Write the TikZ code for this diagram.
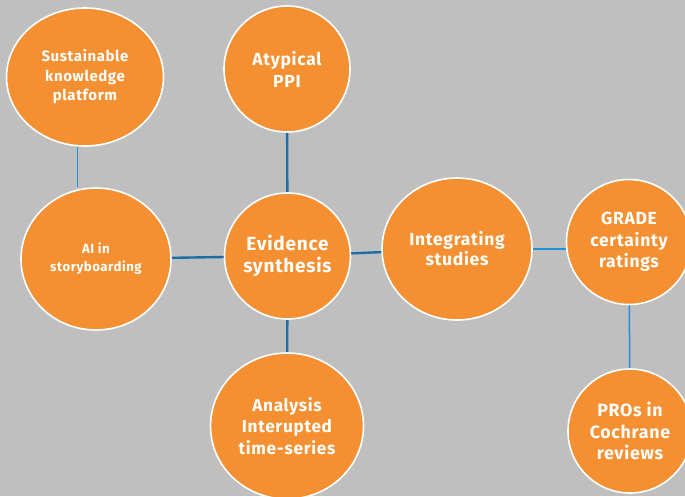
\documentclass[tikz,border=0pt]{standalone}
\usepackage{fontspec}
\setmainfont{Fira Sans}[LetterSpace=4]
\usepackage{tikz}
\usetikzlibrary{shapes.geometric}

\definecolor{bggray}{RGB}{191,191,191}
\definecolor{bubbleorange}{RGB}{244,144,50}
\definecolor{linkdark}{RGB}{28,110,164}
\definecolor{linklight}{RGB}{30,145,218}

\begin{document}
\begin{tikzpicture}[x=1pt, y=-1pt,
        bubble/.style = {ellipse, draw=white, line width=1.6pt, fill=bubbleorange, text=white, inner sep=0pt, align=center, font=\bfseries},
        link/.style = {draw=linkdark, line width=2.4pt},
        thinlink/.style = {draw=linklight, line width=1.5pt},]
        \fill[bggray] (0,0) rectangle (685,496);
        \useasboundingbox (0,0) rectangle (685,496);

        \node[bubble, minimum width=157pt, minimum height=138pt, font=\bfseries\fontsize{15}{19.5}\selectfont] (sust) at (85,77) {Sustainable\\knowledge\\platform};
        \node[bubble, minimum width=126pt, minimum height=126pt, font=\bfseries\fontsize{17.5}{22}\selectfont] (ppi) at (287,69) {Atypical\\PPI};
        \node[bubble, minimum width=150pt, minimum height=142pt, font=\bfseries\fontsize{13.2}{18}\selectfont] (ai) at (96,259) {AI in\\storyboarding};
        \node[bubble, minimum width=126pt, minimum height=126pt, font=\bfseries\fontsize{19}{22}\selectfont] (evid) at (287.5,256) {Evidence\\synthesis};
        \node[bubble, minimum width=150pt, minimum height=142pt, font=\bfseries\fontsize{17.5}{20}\selectfont] (integ) at (457,249) {Integrating\\studies};
        \node[bubble, minimum width=125pt, minimum height=125pt, font=\bfseries\fontsize{17.5}{21.5}\selectfont] (grade) at (629,242) {GRADE\\certainty\\ratings};
        \node[bubble, minimum width=153pt, minimum height=146pt, font=\bfseries\fontsize{17.2}{21.5}\selectfont] (its) at (287,426) {Analysis\\Interupted\\time-series};
        \node[bubble, minimum width=124pt, minimum height=124pt, font=\bfseries\fontsize{17.8}{21.5}\selectfont] (pros) at (630,431) {PROs in\\Cochrane\\reviews};

        \draw[thinlink] (sust.264) -- (sust.264 |- ai.north);
        \draw[link] (ai) -- (evid);
        \draw[link] (evid) -- (integ);
        \draw[link] (evid) -- (ppi);
        \draw[link] (evid) -- (its);
        \draw[thinlink] (integ.east) -- (integ.east -| grade.west);
        \draw[thinlink] (grade) -- (pros);

\end{tikzpicture}
\end{document}
